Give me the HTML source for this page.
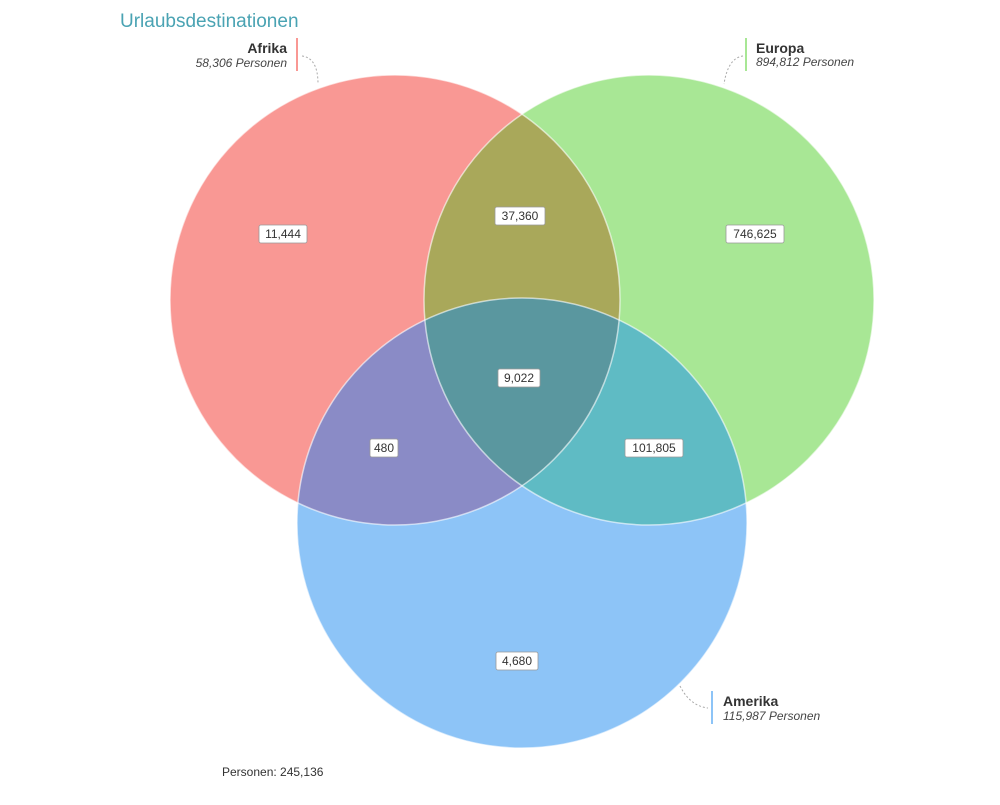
<!DOCTYPE html>
<html><head><meta charset="utf-8"><style>
body{margin:0;background:#fff;}
svg text{font-family:"Liberation Sans",sans-serif;}
</style></head><body>
<svg width="1000" height="800" viewBox="0 0 1000 800" xmlns="http://www.w3.org/2000/svg">
<defs>
<clipPath id="cA"><circle cx="395" cy="300" r="225"/></clipPath>
<clipPath id="cE"><circle cx="649" cy="300" r="225"/></clipPath>
<clipPath id="cM"><circle cx="522" cy="523" r="225"/></clipPath>
</defs>
<rect width="1000" height="800" fill="#fff"/>
<text x="120" y="27" font-size="19" fill="#4aa3b3">Urlaubsdestinationen</text>
<circle cx="395" cy="300" r="225" fill="#f99894"/>
<circle cx="649" cy="300" r="225" fill="#a8e795"/>
<circle cx="522" cy="523" r="225" fill="#8dc4f7"/>
<g clip-path="url(#cA)"><circle cx="649" cy="300" r="225" fill="#a9a85a"/>
<circle cx="522" cy="523" r="225" fill="#8a8bc6"/></g>
<g clip-path="url(#cE)"><circle cx="522" cy="523" r="225" fill="#5fbbc4"/></g>
<g clip-path="url(#cA)"><g clip-path="url(#cE)"><circle cx="522" cy="523" r="225" fill="#5a979f"/></g></g>
<g fill="none" stroke="#fff" stroke-opacity="0.6" stroke-width="1.5">
<circle cx="395" cy="300" r="225"/><circle cx="649" cy="300" r="225"/><circle cx="522" cy="523" r="225"/></g>
<g font-size="12" fill="#333" text-anchor="middle">
<g fill="#fff" stroke="#999" stroke-width="0.8">
<rect x="259" y="225" width="48" height="18" rx="2"/>
<rect x="495" y="207" width="50" height="18" rx="2"/>
<rect x="726" y="225" width="58" height="18" rx="2"/>
<rect x="498" y="369" width="42" height="18" rx="2"/>
<rect x="370" y="439" width="28" height="18" rx="2"/>
<rect x="625" y="439" width="58" height="18" rx="2"/>
<rect x="496" y="652" width="42" height="18" rx="2"/>
</g>
<text x="283" y="238">11,444</text>
<text x="520" y="220">37,360</text>
<text x="755" y="238">746,625</text>
<text x="519" y="382">9,022</text>
<text x="384" y="452">480</text>
<text x="654" y="452">101,805</text>
<text x="517" y="665">4,680</text>
</g>
<g fill="none" stroke="#aaa" stroke-dasharray="2,2">
<path d="M302 56 Q318 58 318 84"/>
<path d="M743 56 Q728 58 724 84"/>
<path d="M680 686 Q690 706 708 708"/>
</g>
<rect x="296" y="38" width="2" height="33" fill="#f99894"/>
<text x="287" y="53" font-size="14" font-weight="bold" fill="#333" text-anchor="end">Afrika</text>
<text x="287" y="67" font-size="12" font-style="italic" fill="#444" text-anchor="end">58,306 Personen</text>
<rect x="745" y="38" width="2" height="33" fill="#a8e795"/>
<text x="756" y="53" font-size="14" font-weight="bold" fill="#333">Europa</text>
<text x="756" y="66" font-size="12" font-style="italic" fill="#444">894,812 Personen</text>
<rect x="711" y="691" width="2" height="33" fill="#8dc4f7"/>
<text x="723" y="706" font-size="14" font-weight="bold" fill="#333">Amerika</text>
<text x="723" y="720" font-size="12" font-style="italic" fill="#444">115,987 Personen</text>
<text x="222" y="776" font-size="12" fill="#333">Personen:  245,136</text>
</svg>
</body></html>
